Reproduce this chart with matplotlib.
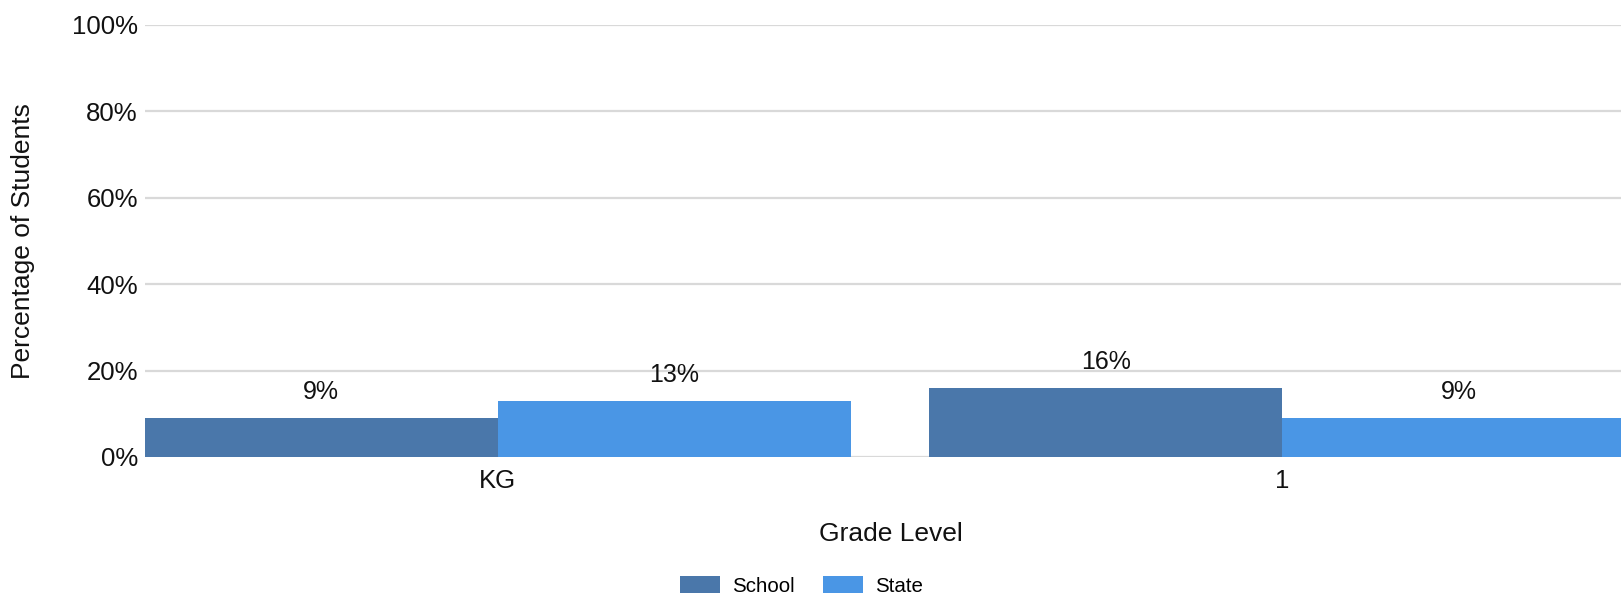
import matplotlib
matplotlib.use("Agg")
import matplotlib.pyplot as plt
import numpy as np

grades = ["KG", "1"]
school = [9, 16]
state = [13, 9]
series_names = ["School", "State"]
colors = ["#4a77aa", "#4a96e5"]
yticks = [0, 20, 40, 60, 80, 100]

plt.rcParams['font.family'] = ['Liberation Sans', 'DejaVu Sans']

W, H = 1621, 593
fig = plt.figure(figsize=(W / 100, H / 100), dpi=100)
left_px, right_px, top_px, bot_px = 144.7, 1621, 24.8, 457
ax = fig.add_axes([left_px / W, 1 - bot_px / H, (right_px - left_px) / W, (bot_px - top_px) / H])

x = np.arange(len(grades))
bw = 0.45
for i, (vals, name, c) in enumerate(zip([school, state], series_names, colors)):
    pos = x + (i - 0.5) * bw
    ax.bar(pos, vals, width=bw, color=c, label=name, zorder=3, linewidth=0)
    for p, v in zip(pos, vals):
        ax.annotate(f"{v}%", (p, v), xytext=(0, 18.5), textcoords="offset points",
                    ha="center", va="center", fontsize=18, color="#111111")

ax.set_xlim(-0.45, 1.432)
ax.set_ylim(0, 100)
ax.set_yticks(yticks)
ax.set_yticklabels([f"{t}%" for t in yticks], fontsize=18.5, color="#111111")
ax.set_xticks(x)
ax.set_xticklabels(grades, fontsize=18.5, color="#111111")
ax.tick_params(axis="both", length=0)
ax.tick_params(axis="y", pad=5)
ax.tick_params(axis="x", pad=9)
ax.grid(axis="y", color="#d9d9d9", linewidth=1.6, zorder=0)
for s in ax.spines.values():
    s.set_visible(False)

ax.set_ylabel("Percentage of Students", fontsize=19, color="#111111", va="center")
ax.yaxis.set_label_coords(-0.0824, 0.5)
ax.set_xlabel("Grade Level", fontsize=19, color="#111111")
ax.xaxis.set_label_coords(0.5055, -0.150)

fig.legend(loc="center", bbox_to_anchor=(0.4945, 0.012), ncol=2, frameon=False,
           fontsize=14.8, handlelength=1.95, handleheight=0.9, handletextpad=0.56,
           columnspacing=1.4)

fig.savefig("out.png", dpi=100)
